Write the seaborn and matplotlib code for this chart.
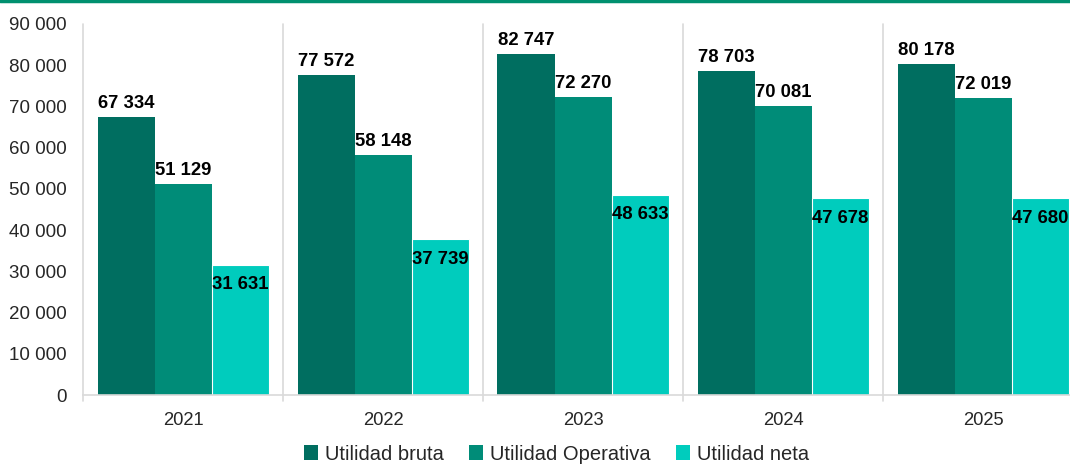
import matplotlib
matplotlib.use("Agg")
import matplotlib.pyplot as plt
import seaborn as sns
import pandas as pd
from matplotlib.ticker import FuncFormatter
from matplotlib.patches import Patch

years = ["2021", "2022", "2023", "2024", "2025"]
utilidad_bruta = [67334, 77572, 82747, 78703, 80178]
utilidad_operativa = [51129, 58148, 72270, 70081, 72019]
utilidad_neta = [31631, 37739, 48633, 47678, 47680]
series_names = ["Utilidad bruta", "Utilidad Operativa", "Utilidad neta"]
colors = ["#006E60", "#008C78", "#00CCBD"]

df = pd.DataFrame({
    "Año": years * 3,
    "Serie": [s for s in series_names for _ in years],
    "Valor": utilidad_bruta + utilidad_operativa + utilidad_neta,
})

sns.set_theme(style="white")
plt.rcParams["font.family"] = ["Liberation Sans", "DejaVu Sans"]

fig = plt.figure(figsize=(10.70, 4.65), dpi=100)
ax = fig.add_axes([83 / 1070, 70 / 465, 1000 / 1070, 371 / 465])

sns.barplot(data=df, x="Año", y="Valor", hue="Serie", hue_order=series_names,
            palette=colors, width=0.855, gap=0, saturation=1, ax=ax,
            legend=False, errorbar=None)

# no outlines except a thin white edge on the third series
for i, cont in enumerate(ax.containers):
    for bar in cont:
        if i == 2:
            bar.set_edgecolor("white")
            bar.set_linewidth(0.8)
        else:
            bar.set_linewidth(0)

ax.set_ylim(0, 90000)
ax.set_xlim(-0.5, 4.5)
ax.yaxis.set_major_formatter(FuncFormatter(lambda v, p: f"{int(v):,}".replace(",", " ")))
ax.set_yticks(range(0, 90001, 10000))
ax.tick_params(axis="y", length=0, labelsize=13.5, colors="#262626", pad=11.5)
ax.tick_params(axis="x", labelsize=13.2, colors="#262626", length=0, pad=12)
ax.set_xlabel("")
ax.set_ylabel("")

for side in ["top", "right", "left"]:
    ax.spines[side].set_visible(False)
ax.spines["bottom"].set_color("#D9D9D9")
ax.spines["bottom"].set_linewidth(1.2)

# group separators
for b in [-0.5, 0.5, 1.5, 2.5, 3.5, 4.5]:
    ax.axvline(b, ymin=-0.015, ymax=1.0, color="#D9D9D9", lw=1.2, clip_on=False, zorder=0)

fmt = lambda v: f"{int(v):,}".replace(",", " ")
for i, cont in enumerate(ax.containers):
    vals = [utilidad_bruta, utilidad_operativa, utilidad_neta][i]
    for bar, v in zip(cont, vals):
        x = bar.get_x() + bar.get_width() / 2
        if i < 2:
            ax.annotate(fmt(v), (x, v), xytext=(0, 5), textcoords="offset pixels",
                        ha="center", va="bottom", fontsize=13.3, fontweight="bold",
                        color="black", annotation_clip=False)
        else:
            ax.annotate(fmt(v), (x, v), xytext=(0, -20), textcoords="offset pixels",
                        ha="center", va="center", fontsize=13.3, fontweight="bold",
                        color="black", annotation_clip=False)

handles = [Patch(facecolor=c, edgecolor="none") for c in colors]
fig.legend(handles, series_names, loc="center", bbox_to_anchor=(0.52, 11 / 465),
           ncol=3, frameon=False, fontsize=14.5, handlelength=0.7, handleheight=0.7,
           handletextpad=0.35, columnspacing=1.25, labelcolor="#262626",
           borderpad=0.2)

# top rule
fig.add_artist(plt.Line2D([0, 1], [1 - 1.2 / 465, 1 - 1.2 / 465], transform=fig.transFigure,
                          color="#00906F", lw=2.5))

fig.savefig("out.png", dpi=100)
